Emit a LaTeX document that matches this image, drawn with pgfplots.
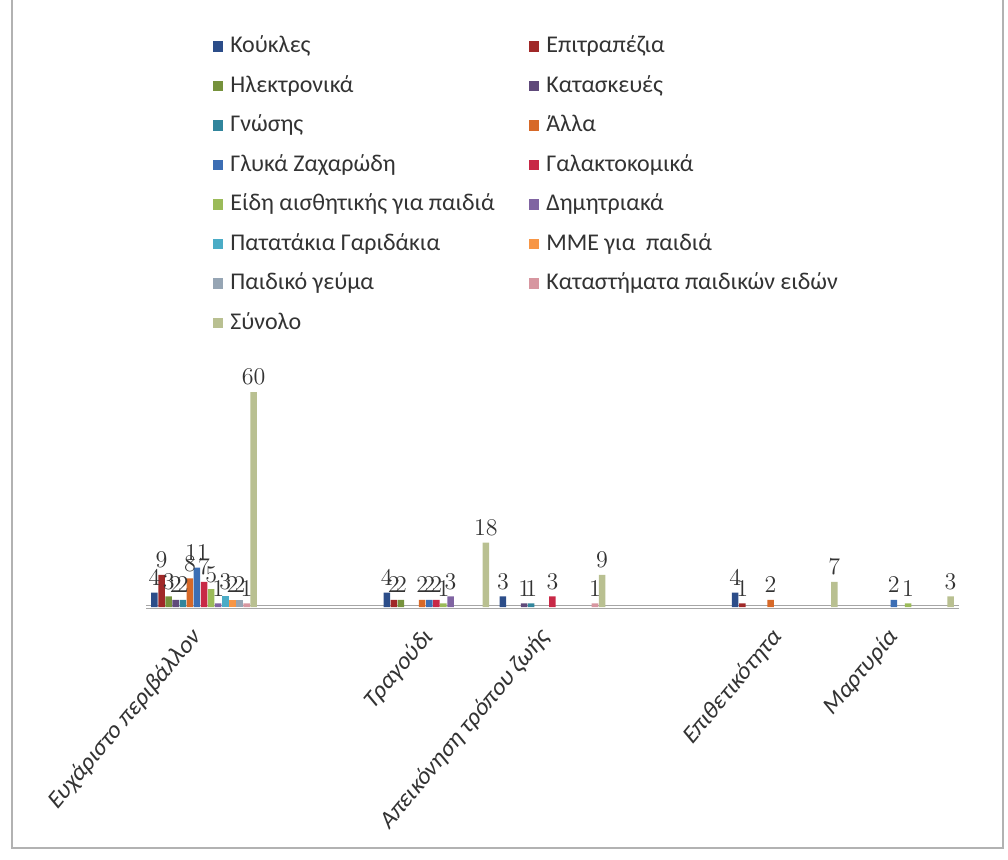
\documentclass[border=0pt]{standalone}
\usepackage{pgfplots}
\pgfplotsset{compat=1.18}
\usepackage{fontspec}
\setmainfont{Carlito}
\newfontfamily\lblfont{Liberation Serif}

\definecolor{c1}{RGB}{44,77,137}
\definecolor{c2}{RGB}{160,40,40}
\definecolor{c3}{RGB}{118,146,60}
\definecolor{c4}{RGB}{95,73,122}
\definecolor{c5}{RGB}{49,133,156}
\definecolor{c6}{RGB}{215,105,40}
\definecolor{c7}{RGB}{60,110,180}
\definecolor{c8}{RGB}{200,40,70}
\definecolor{c9}{RGB}{155,187,89}
\definecolor{c10}{RGB}{128,100,162}
\definecolor{c11}{RGB}{75,172,198}
\definecolor{c12}{RGB}{247,150,70}
\definecolor{c13}{RGB}{150,165,180}
\definecolor{c14}{RGB}{215,150,160}
\definecolor{c15}{RGB}{185,192,145}

\begin{document}
\begin{tikzpicture}
\useasboundingbox (-73pt,-126pt) rectangle (431pt,303.5pt);
\draw[gray!60, line width=1pt] (-67pt,303.5pt) -- (-67pt,-120.5pt) -- (428.5pt,-120.5pt) -- (428.5pt,303.5pt);
\begin{axis}[
  scale only axis, width=406.5pt, height=107.5pt,
  xmin=-0.5, xmax=6.5, ymin=0, ymax=60,
  ybar, bar width=0.056,
  axis y line=none,
  axis x line*=bottom,
  x axis line style={-, draw=gray!70, line width=0.6pt, double=white, double distance=0.9pt},
  xtick={0,2,3,5,6},
  xticklabels={Ευχάριστο περιβάλλον, Τραγούδι, Απεικόνηση τρόπου ζωής, Επιθετικότητα, Μαρτυρία},
  major tick length=0pt,
  xticklabel style={anchor=east, yshift=-10pt, xshift=-1pt, yscale=1.2, rotate=45,
    font=\fontsize{11}{13}\selectfont, text=black!80},
  nodes near coords,
  every node near coord/.append style={font=\lblfont\fontsize{12}{14}\selectfont, text=black!80},
  clip=false,
  every axis plot post/.append style={draw=none,
    legend image code/.code={\fill[##1, draw=none] (0pt,-2.6pt) rectangle (5.2pt,2.6pt);}},
  legend columns=2,
  legend cell align=left,
  legend style={at={(0,0)}, anchor=north west, xshift=33.5pt, yshift=285.7pt,
    draw=none, fill=none, inner sep=0pt, outer sep=0pt, row sep=8.75pt,
    font=\fontsize{12}{14}\selectfont,
    nodes={inner sep=0pt, text height=8.6pt, text depth=2.4pt, text=black!80},
    /tikz/every odd column/.append style={column sep=3.5pt},
    /tikz/every even column/.append style={column sep=17pt}},
]
\addplot[fill=c1, bar shift=-0.427] coordinates {(0,4) (2,4) (3,3) (5,4)};
\addlegendentry{Κούκλες}
\addplot[fill=c2, bar shift=-0.366] coordinates {(0,9) (2,2) (5,1)};
\addlegendentry{Επιτραπέζια}
\addplot[fill=c3, bar shift=-0.305] coordinates {(0,3) (2,2)};
\addlegendentry{Ηλεκτρονικά}
\addplot[fill=c4, bar shift=-0.244] coordinates {(0,2) (3,1)};
\addlegendentry{Κατασκευές}
\addplot[fill=c5, bar shift=-0.183] coordinates {(0,2) (3,1)};
\addlegendentry{Γνώσης}
\addplot[fill=c6, bar shift=-0.122] coordinates {(0,8) (2,2) (5,2)};
\addlegendentry{Άλλα}
\addplot[fill=c7, bar shift=-0.061] coordinates {(0,11) (2,2) (6,2)};
\addlegendentry{Γλυκά Ζαχαρώδη}
\addplot[fill=c8, bar shift=0] coordinates {(0,7) (2,2) (3,3)};
\addlegendentry{Γαλακτοκομικά}
\addplot[fill=c9, bar shift=0.061] coordinates {(0,5) (2,1) (6,1)};
\addlegendentry{Είδη αισθητικής για παιδιά}
\addplot[fill=c10, bar shift=0.122] coordinates {(0,1) (2,3)};
\addlegendentry{Δημητριακά}
\addplot[fill=c11, bar shift=0.183] coordinates {(0,3)};
\addlegendentry{Πατατάκια Γαριδάκια}
\addplot[fill=c12, bar shift=0.244] coordinates {(0,2)};
\addlegendentry{ΜΜΕ για\ \ παιδιά}
\addplot[fill=c13, bar shift=0.305] coordinates {(0,2)};
\addlegendentry{Παιδικό γεύμα}
\addplot[fill=c14, bar shift=0.366] coordinates {(0,1) (3,1)};
\addlegendentry{Καταστήματα παιδικών ειδών}
\addplot[fill=c15, bar shift=0.427] coordinates {(0,60) (2,18) (3,9) (5,7) (6,3)};
\addlegendentry{Σύνολο}
\end{axis}
\end{tikzpicture}
\end{document}
